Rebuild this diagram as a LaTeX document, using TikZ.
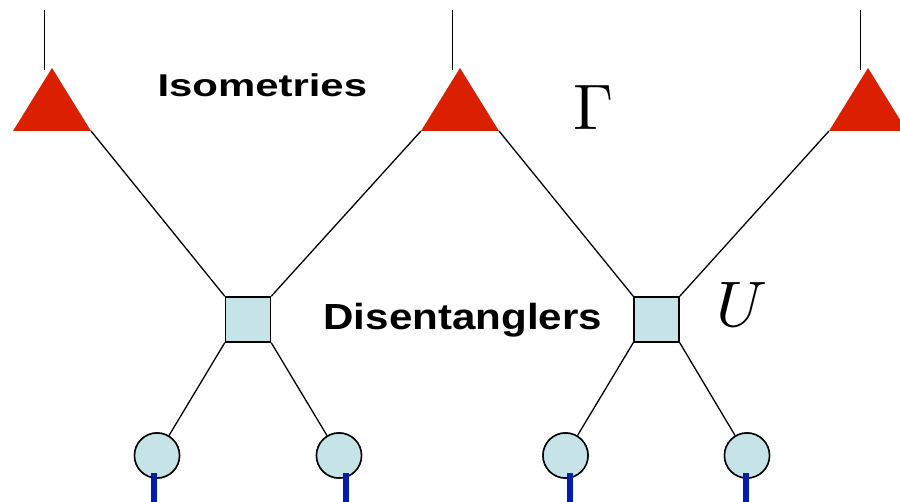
\documentclass[tikz,border=0pt]{standalone}
\usepackage{fontspec}
\setsansfont{Liberation Sans}
\usetikzlibrary{calc}
\definecolor{isored}{RGB}{218,32,0}
\definecolor{boxfill}{RGB}{198,228,231}
\definecolor{legblue}{RGB}{0,30,168}
\tikzset{
  wire/.style={line width=1.3pt, black},
  stub/.style={line width=1.6pt, black},
  leg/.style={line width=5.5pt, legblue},
  isometry/.style={fill=isored, draw=none},
  disent/.style={rectangle, draw, line width=1.5pt, fill=boxfill, minimum size=45pt, inner sep=0pt},
  site/.style={circle, draw, line width=1.5pt, fill=boxfill, minimum size=45pt, inner sep=0pt},
  caption/.style={anchor=base west, inner sep=0pt, font=\sffamily\bfseries},
  symb/.style={anchor=base west, inner sep=0pt},
}
\begin{document}
\begin{tikzpicture}[x=1pt,y=-1pt]
\useasboundingbox (0,0) rectangle (900,502);
\clip (0,0) rectangle (900,502);

% isometries: apex and base corners
\foreach \n/\x in {A/52,B/460,C/868}{
  \coordinate (\n-top) at (\x,68);
  \coordinate (\n-l) at (\x-39,131);
  \coordinate (\n-r) at (\x+39,131);
  \coordinate (\n-s1) at (\x-7.7,10);
  \coordinate (\n-s2) at (\x-7.7,70);
}

% disentanglers
\node[disent] (U1) at (248,319.5) {};
\node[disent] (U2) at (656.5,319.5) {};

% sites
\node[site] (s1) at (157,455.5) {};
\node[site] (s2) at (339,455.5) {};
\node[site] (s3) at (565.5,455.5) {};
\node[site] (s4) at (747,455.5) {};

% wires between layers
\draw[wire] (A-r) -- (U1.north west);
\draw[wire] (B-l) -- (U1.north east);
\draw[wire] (B-r) -- (U2.north west);
\draw[wire] (C-l) -- (U2.north east);
\draw[wire] (U1.south west) -- (s1);
\draw[wire] (U1.south east) -- (s2);
\draw[wire] (U2.south west) -- (s3);
\draw[wire] (U2.south east) -- (s4);

% redraw nodes over wire ends
\node[disent] at (U1) {};
\node[disent] at (U2) {};
\node[site] at (s1) {};
\node[site] at (s2) {};
\node[site] at (s3) {};
\node[site] at (s4) {};

% triangles and their upper legs
\foreach \n in {A,B,C}{
  \fill[isometry] (\n-top) -- (\n-r) -- (\n-l) -- cycle;
  \draw[stub] (\n-s1) -- (\n-s2);
}

% physical legs
\foreach \i/\x in {1/154,2/346,3/570,4/746}{
  \coordinate (p\i-a) at (\x,473);
  \coordinate (p\i-b) at (\x,502);
  \draw[leg] (p\i-a) -- (p\i-b);
}

% labels
\node[caption] (iso) at (157.3,96.7) {\scalebox{1.33}[1]{\fontsize{31.5}{36}\selectfont Isometries}};
\node[caption] (dis) at (323.3,329.3) {\scalebox{1.16}[1]{\fontsize{36.3}{40}\selectfont Disentanglers}};
\node[symb] (gam) at (573,129.3) {\scalebox{6.44}{$\Gamma$}};
\node[symb] (uu) at (716,326.7) {\scalebox{6.44}{$U$}};
\end{tikzpicture}
\end{document}
